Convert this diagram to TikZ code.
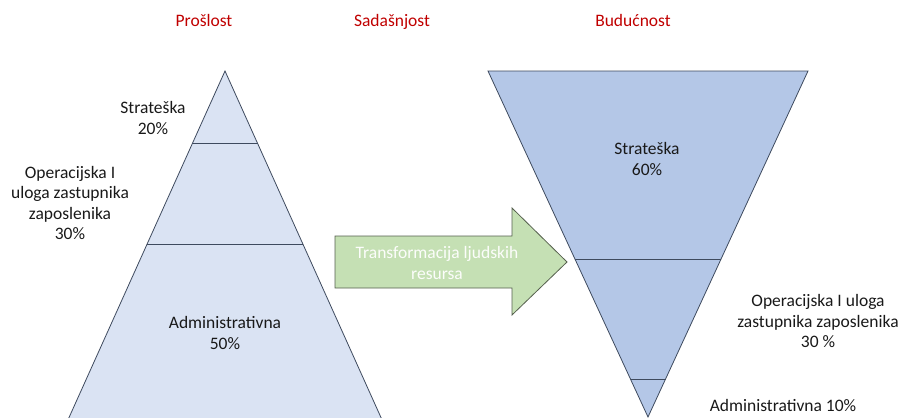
\documentclass[tikz,border=0pt]{standalone}
\usepackage{fontspec}
\setmainfont{Carlito}
\usetikzlibrary{calc,positioning}

\definecolor{naslov}{HTML}{C00000}
\definecolor{svijetloplava}{HTML}{DAE3F3}
\definecolor{plava}{HTML}{B4C7E7}
\definecolor{rub}{HTML}{3E4A5E}
\definecolor{zelena}{HTML}{C5E0B4}
\definecolor{rubzelena}{HTML}{56604E}

\tikzset{
  naslovtekst/.style={text=naslov, anchor=base},
  opis/.style={align=center, text=black!90},
  podjela/.style={draw=rub, line width=0.8pt},
}

\begin{document}
\begin{tikzpicture}[x=1pt,y=-1pt,inner sep=0mm,font=\fontsize{17.5}{20.5}\selectfont]

\useasboundingbox (0,0) rectangle (903,418);

% lijeva piramida
\coordinate (E) at (225,71);
\coordinate (A) at (67,422);
\coordinate (D) at (383,422);
\coordinate (K1) at (192.4,143);
\coordinate (L1) at (257.6,143);
\coordinate (K2) at (146.7,244);
\coordinate (L2) at (303.3,244);

\fill[fill=svijetloplava, draw=rub, line width=0.8pt] (A) to (E) to (D) to cycle;
\draw[podjela] (K1) to (L1);
\draw[podjela] (K2) to (L2);

% desna piramida
\coordinate (B) at (488,71);
\coordinate (C) at (808,71);
\coordinate (F) at (648,417);
\coordinate (M1) at (575,259);
\coordinate (N1) at (721,259);
\coordinate (M2) at (630.5,379);
\coordinate (N2) at (665.5,379);

\fill[fill=plava, draw=rub, line width=0.8pt] (B) to (C) to (F) to cycle;
\draw[podjela] (M1) to (N1);
\draw[podjela] (M2) to (N2);

% strelica
\coordinate (S1) at (335,236);
\coordinate (S2) at (512,236);
\coordinate (S3) at (512,208);
\coordinate (S4) at (567,262);
\coordinate (S5) at (512,315);
\coordinate (S6) at (512,288);
\coordinate (S7) at (335,288);

\fill[fill=zelena, draw=rubzelena, line width=0.8pt] (S1) to (S2) to (S3) to (S4) to (S5) to (S6) to (S7) to cycle;

\node (transf) at (437,263) [align=center, text=white!95!zelena] {Transformacija ljudskih\\resursa};

% naslovi
\node (proslost) at (204,26) [naslovtekst] {Prošlost};
\node (sadasnjost) at (392,26) [naslovtekst] {Sadašnjost};
\node (buducnost) at (633,26) [naslovtekst] {Budućnost};

% opisi
\node (strat20) at (153,118) [opis] {Strateška\\20\%};
\node (oper30) at (70,203) [opis] {Operacijska I\\uloga zastupnika\\zaposlenika\\30\%};
\node (admin50) at (225,333) [opis] {Administrativna\\50\%};
\node (strat60) at (647,159) [opis] {Strateška\\60\%};
\node (oper30b) at (818,321) [opis] {Operacijska I uloga\\zastupnika zaposlenika\\30 \%};
\node (admin10) at (783,405) [opis] {Administrativna 10\%};

\end{tikzpicture}
\end{document}
